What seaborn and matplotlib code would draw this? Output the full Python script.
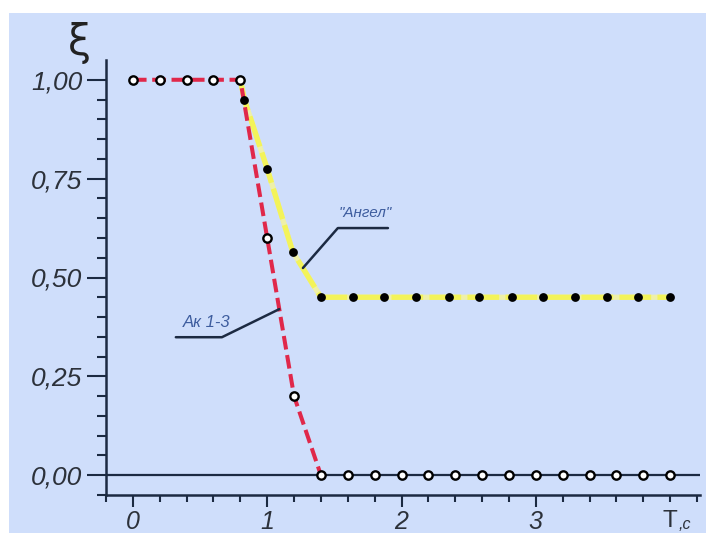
import numpy as np
import pandas as pd
import matplotlib
matplotlib.use("Agg")
import matplotlib.pyplot as plt
from matplotlib.patches import Rectangle
import seaborn as sns

# ---- data -------------------------------------------------------------
# "Ак 1-3" series: damping coefficient vs time
ak_t = [0.0, 0.2, 0.4, 0.6, 0.8, 1.0, 1.2, 1.4, 1.6, 1.8, 2.0, 2.2,
        2.4, 2.6, 2.8, 3.0, 3.2, 3.4, 3.6, 3.8, 4.0]
ak_xi = [1.00, 1.00, 1.00, 1.00, 1.00, 0.60, 0.20, 0.00, 0.00, 0.00, 0.00,
         0.00, 0.00, 0.00, 0.00, 0.00, 0.00, 0.00, 0.00, 0.00, 0.00]

# "Ангел" series
an_t = [0.80, 0.83, 1.00, 1.19, 1.40, 1.64, 1.87, 2.11, 2.35, 2.58, 2.82,
        3.05, 3.29, 3.53, 3.76, 4.00]
an_xi = [1.00, 0.95, 0.775, 0.565, 0.45, 0.45, 0.45, 0.45, 0.45, 0.45, 0.45,
         0.45, 0.45, 0.45, 0.45, 0.45]

y_ticks = [0.00, 0.25, 0.50, 0.75, 1.00]
y_tick_labels = ["0,00", "0,25", "0,50", "0,75", "1,00"]
x_ticks = [0, 1, 2, 3]
x_tick_labels = ["0", "1", "2", "3"]

ak_label = "Ак 1-3"
an_label = "\"Ангел\""

# ---- style ------------------------------------------------------------
sns.set_theme(style="ticks")
plt.rcParams["font.family"] = ["Liberation Sans", "DejaVu Sans"]

BG = "#cfdefb"
NAVY = "#1c2a42"
RED = "#e0284a"
YEL = "#f3f35a"
YEL_PALE = "#eef0a8"
LABEL = "#2c313a"
NOTE = "#3d5c9e"

fig = plt.figure(figsize=(7.06, 5.33), dpi=100, facecolor="white")
fig.patches.append(Rectangle((9 / 706, 0), 1, 520 / 533, transform=fig.transFigure,
                             facecolor=BG, edgecolor="none", zorder=-10))
ax = fig.add_axes([106 / 706, 38 / 533, 593.7 / 706, 435 / 533])
ax.set_facecolor("none")

ak = pd.DataFrame({"t": ak_t, "xi": ak_xi})
an = pd.DataFrame({"t": an_t, "xi": an_xi})
ak_line = ak[ak["t"] <= 1.4]

# zero reference line
ax.axhline(0, color=NAVY, lw=1.6, zorder=1)

# "Ангел": pale yellow base with brighter dashes on top
sns.lineplot(data=an, x="t", y="xi", ax=ax, color=YEL_PALE, lw=3.8,
             sort=False, estimator=None, zorder=2)
sns.lineplot(data=an, x="t", y="xi", ax=ax, color=YEL, lw=3.8,
             sort=False, estimator=None, zorder=2.1, dashes=False)
ax.lines[-1].set_dashes((6, 1.2))

# "Ак 1-3": red dashed line
sns.lineplot(data=ak_line, x="t", y="xi", ax=ax, color=RED, lw=2.9,
             sort=False, estimator=None, zorder=3)
ax.lines[-1].set_dashes((3.4, 1.4))

# markers
sns.scatterplot(data=an.iloc[1:], x="t", y="xi", ax=ax, color="black",
                s=40, edgecolor="black", linewidth=0, zorder=5)
sns.scatterplot(data=ak, x="t", y="xi", ax=ax, color="white", s=36,
                edgecolor="black", linewidth=1.7, zorder=6)

# ---- axes -------------------------------------------------------------
ax.set_xlim(-0.2, 4.22)
ax.set_ylim(-0.05, 1.05)
for side in ("top", "right"):
    ax.spines[side].set_visible(False)
for side in ("left", "bottom"):
    ax.spines[side].set_color(NAVY)
    ax.spines[side].set_linewidth(1.8)

ax.set_xticks(x_ticks)
ax.set_xticklabels(x_tick_labels)
ax.set_xticks(np.round(np.arange(-0.2, 4.21, 0.2), 2), minor=True)
ax.set_yticks(y_ticks)
ax.set_yticklabels(y_tick_labels)
ax.set_yticks(np.round(np.arange(-0.05, 0.96, 0.05), 2), minor=True)

ax.tick_params(axis="y", which="major", direction="out", length=14, width=1.5,
               color=NAVY, pad=3, labelsize=19, labelcolor=LABEL)
ax.tick_params(axis="y", which="minor", direction="out", length=6.5, width=1.5,
               color=NAVY)
ax.tick_params(axis="x", which="major", direction="out", length=8.5, width=1.5,
               color=NAVY, pad=2, labelsize=18, labelcolor=LABEL)
ax.tick_params(axis="x", which="minor", direction="out", length=5, width=1.5,
               color=NAVY)
for lab in ax.get_xticklabels() + ax.get_yticklabels():
    lab.set_fontstyle("italic")

ax.set_xlabel("")
ax.set_ylabel("")

# axis names
fig.text(79 / 706, 1 - 43 / 533, "ξ", fontsize=30, color="#222222",
         ha="center", va="center", family=["DejaVu Sans"])
ax.annotate("T", xy=(4.0, 0), xycoords=("data", "axes fraction"),
            xytext=(0, -10.5), textcoords="offset points", ha="center", va="top",
            fontsize=17.5, color=LABEL)
ax.annotate(",c", xy=(4.0, 0), xycoords=("data", "axes fraction"),
            xytext=(6, -15.5), textcoords="offset points", ha="left", va="top",
            fontsize=11.5, color=LABEL, fontstyle="italic")

# callouts
ax.plot([1.266, 1.526, 1.899], [0.524, 0.625, 0.625], color=NAVY, lw=1.8, zorder=4)
ax.text(1.727, 0.662, an_label, fontsize=11, color=NOTE, fontstyle="italic",
        ha="center", va="center")
ax.plot([0.32, 0.663, 1.09], [0.349, 0.349, 0.42], color=NAVY, lw=1.8, zorder=4)
ax.text(0.547, 0.385, ak_label, fontsize=12, color=NOTE, fontstyle="italic",
        ha="center", va="center")

fig.savefig("out.png", dpi=100, facecolor="white")
